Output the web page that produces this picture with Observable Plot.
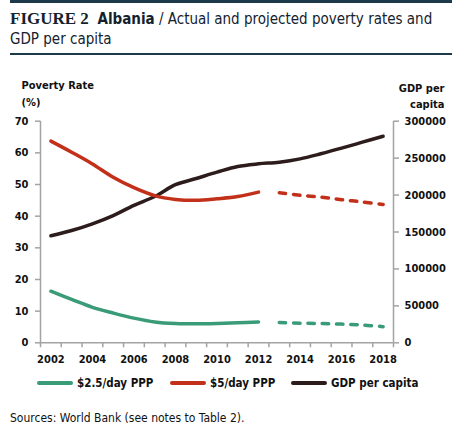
<!DOCTYPE html>
<html>
<head>
<meta charset="utf-8">
<script src="https://cdn.jsdelivr.net/npm/d3@7"></script>
<script src="https://cdn.jsdelivr.net/npm/@observablehq/plot@0.6"></script>
<style>
  html, body { margin: 0; padding: 0; background: #fff; }
  body { width: 476px; height: 445px; position: relative; overflow: hidden;
         font-family: "DejaVu Sans Condensed", "DejaVu Sans", sans-serif; color: #111; }
  .rule-top { position: absolute; left: 10px; top: 0; width: 442px; height: 3px; background: #1c3a4a; }
  .rule-mid { position: absolute; left: 10px; top: 53px; width: 442px; height: 2px; background: #1c3a4a; }
  .title { position: absolute; left: 10px; top: 9px; width: 460px; font-size: 15px; line-height: 20px; color: #14222e; white-space: nowrap; }
  .title .fig { font-family: "Liberation Serif", serif; font-weight: bold; font-size: 17px; }
  .title .country { font-weight: bold; }
  #chart { position: absolute; left: 0; top: 62px; }
  .legend { position: absolute; top: 375px; left: 37px; font-size: 11.5px; font-weight: bold; line-height: 16px; }
  .legend .item { position: absolute; white-space: nowrap; display: flex; align-items: center; }
  .legend .sw { display: inline-block; width: 36px; height: 4px; border-radius: 2px; margin-right: 4px; }
  .caption { position: absolute; left: 10px; top: 411px; font-size: 12px; color: #111; white-space: nowrap; }
</style>
</head>
<body>
<div class="rule-top"></div>
<div class="title"><span class="fig">FIGURE 2</span>&nbsp; <span class="country">Albania</span> / Actual and projected poverty rates and<br>GDP per capita</div>
<div class="rule-mid"></div>
<div id="chart"></div>
<div class="legend" id="legend"></div>
<div class="caption">Sources: World Bank (see notes to Table 2).</div>
<script>
// ---- data ----
const actualYears = [2002, 2003, 2004, 2005, 2006, 2007, 2008, 2009, 2010, 2011, 2012];
const projYears = [2013, 2014, 2015, 2016, 2017, 2018];
const allYears = actualYears.concat(projYears);

const pov25 = [16.3, 13.7, 11.2, 9.4, 7.8, 6.6, 6.1, 6.0, 6.1, 6.3, 6.6];
const pov25Proj = [6.4, 6.2, 6.1, 5.9, 5.6, 5.1];
const pov5 = [63.7, 60.2, 56.5, 52.3, 49.0, 46.5, 45.3, 45.0, 45.5, 46.2, 47.6];
const pov5Proj = [47.4, 46.6, 46.0, 45.2, 44.5, 43.7];
const gdp = [144900, 152000, 161100, 172300, 186000, 198000, 214000, 222400, 231000, 238700, 242300,
             244500, 249000, 255900, 263500, 271600, 279700];

const seriesNames = ["$2.5/day PPP", "$5/day PPP", "GDP per capita"];
const seriesColors = ["#3a9b78", "#c3301a", "#2d1c1c"];

const leftTicks = [0, 10, 20, 30, 40, 50, 60, 70];
const rightTicks = [0, 50000, 100000, 150000, 200000, 250000, 300000];
const xLabelYears = [2002, 2004, 2006, 2008, 2010, 2012, 2014, 2016, 2018];

// ---- build tables ----
const leftMax = 70, rightMax = 300000;
const toLeft = v => v * leftMax / rightMax;
const rows = (years, vals) => years.map((year, i) => ({year, value: vals[i]}));
const a25 = rows(actualYears, pov25), p25 = rows(projYears, pov25Proj);
const a5 = rows(actualYears, pov5), p5 = rows(projYears, pov5Proj);
const g = rows(allYears, gdp.map(toLeft));

const axisColor = "#a3a3a3";
const dash = "6.5,7.8";
const font = '"DejaVu Sans Condensed", "DejaVu Sans", sans-serif';

const chart = Plot.plot({
  width: 476,
  height: 310,
  marginLeft: 40,
  marginRight: 83,
  marginTop: 58.7,
  marginBottom: 29.7,
  style: {fontFamily: font, fontSize: "11px", fontWeight: "bold", color: "#111", background: "transparent"},
  x: {domain: [2001.5, 2018.5]},
  y: {domain: [0, 70]},
  marks: [
    // axis frame lines
    Plot.ruleX([2001.5, 2018.5], {y1: 0, y2: 70, stroke: axisColor, strokeWidth: 1.5}),
    Plot.ruleY([0], {stroke: axisColor, strokeWidth: 1.5}),
    // left axis
    Plot.axisY(leftTicks, {anchor: "left", tickSize: 5, tickPadding: 7, stroke: axisColor, strokeWidth: 1.5, label: null}),
    // right axis (GDP scaled onto poverty units)
    Plot.axisY(rightTicks.map(toLeft), {anchor: "right", tickSize: 5, tickPadding: 6, stroke: axisColor, strokeWidth: 1.5,
      tickFormat: d => String(Math.round(d * rightMax / leftMax)), label: null}),
    // x axis: ticks between categories, labels at category centers
    Plot.axisX(d3.range(2001.5, 2019, 1), {tickSize: 5, tickFormat: () => "", stroke: axisColor, strokeWidth: 1.5, label: null}),
    Plot.axisX(xLabelYears, {tickSize: 0, tickPadding: 12, tickFormat: d => String(d), label: null}),
    // axis titles
    Plot.text(["Poverty Rate"], {frameAnchor: "top-left", textAnchor: "start", lineAnchor: "middle", dx: -19, dy: -35.7}),
    Plot.text(["(%)"], {frameAnchor: "top-left", textAnchor: "start", lineAnchor: "middle", dx: -19, dy: -18.7}),
    Plot.text(["GDP per"], {frameAnchor: "top-right", textAnchor: "end", lineAnchor: "middle", dx: 51, dy: -32.7}),
    Plot.text(["capita"], {frameAnchor: "top-right", textAnchor: "end", lineAnchor: "middle", dx: 51, dy: -16.7}),
    // series
    Plot.line(g, {x: "year", y: "value", stroke: seriesColors[2], strokeWidth: 3.5, curve: "catmull-rom"}),
    Plot.line(a5, {x: "year", y: "value", stroke: seriesColors[1], strokeWidth: 3.5, curve: "catmull-rom"}),
    Plot.line(p5, {x: "year", y: "value", stroke: seriesColors[1], strokeWidth: 3.5, curve: "catmull-rom", strokeDasharray: dash, strokeLinecap: "round"}),
    Plot.line(a25, {x: "year", y: "value", stroke: seriesColors[0], strokeWidth: 3.5, curve: "catmull-rom"}),
    Plot.line(p25, {x: "year", y: "value", stroke: seriesColors[0], strokeWidth: 3.5, curve: "catmull-rom", strokeDasharray: dash, strokeLinecap: "round"})
  ]
});
document.getElementById("chart").appendChild(chart);

// legend
const legendX = [0, 133, 254];
const legend = document.getElementById("legend");
seriesNames.forEach((name, i) => {
  const item = document.createElement("div");
  item.className = "item";
  item.style.left = legendX[i] + "px";
  const sw = document.createElement("span");
  sw.className = "sw";
  sw.style.background = seriesColors[i];
  item.appendChild(sw);
  item.appendChild(document.createTextNode(name));
  legend.appendChild(item);
});
</script>
</body>
</html>
